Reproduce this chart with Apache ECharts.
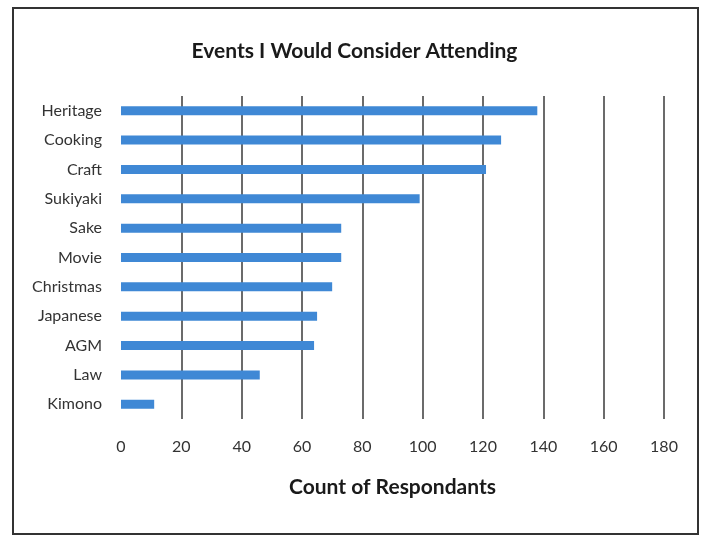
<!DOCTYPE html>
<html><head><meta charset="utf-8">
<script src="https://cdn.jsdelivr.net/npm/echarts@6/dist/echarts.min.js"></script>
<style>html,body{margin:0;padding:0;background:#fff}#c{width:709px;height:536px}</style>
</head><body><div id="c"></div>
<script>
const categories = ["Heritage","Cooking","Craft","Sukiyaki","Sake","Movie","Christmas","Japanese","AGM","Law","Kimono"];
const counts = [138,126,121,99,73,73,70,65,64,46,11];
const xTicks = {min:0, max:180, interval:20};
const titleText = "Events I Would Consider Attending";
const xName = "Count of Respondants";

const chart = echarts.init(document.getElementById('c'), null, {renderer:'canvas'});
const font = 'Lato, "Open Sans", sans-serif';
chart.setOption({
  animation:false,
  backgroundColor:'#fff',
  title:{text:titleText,left:'center',top:36,textStyle:{fontFamily:font,fontSize:21,fontWeight:'bold',color:'#1a1a1a'}},
  graphic:[{type:'rect',shape:{x:13,y:8,width:685,height:526},style:{fill:'none',stroke:'#333',lineWidth:2},silent:true,z:-1}],
  grid:{left:121,right:45,top:96,bottom:117,containLabel:false},
  xAxis:{type:'value',min:xTicks.min,max:xTicks.max,interval:xTicks.interval,
    name:xName,nameLocation:'middle',nameGap:58,
    nameTextStyle:{fontFamily:font,fontSize:21,fontWeight:'bold',color:'#1a1a1a'},
    axisLine:{show:false},axisTick:{show:false},
    axisLabel:{fontFamily:font,fontSize:16,color:'#333',margin:20},
    splitLine:{show:true,showMinLine:false,lineStyle:{color:'#3a3a3a',width:1.5}}},
  yAxis:{type:'category',data:categories,inverse:true,
    axisLine:{show:false},axisTick:{show:false},
    axisLabel:{fontFamily:font,fontSize:16,color:'#333',margin:19},
    splitLine:{show:false}},
  series:[{type:'bar',data:counts,barWidth:9,itemStyle:{color:'#3f88d5'}}]
});
</script></body></html>
